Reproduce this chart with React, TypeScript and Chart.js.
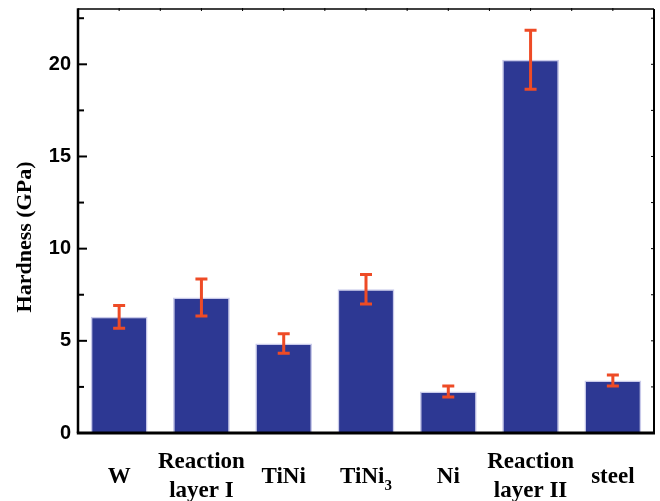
import React, { useEffect, useRef } from "react";
import { Chart, registerables } from "chart.js";

Chart.register(...registerables);

const categories: string[][] = [["W"], ["Reaction", "layer I"], ["TiNi"], ["TiNi", "3"], ["Ni"], ["Reaction", "layer II"], ["steel"]];
const subscriptIndex = 3;
const hardness = [6.3, 7.35, 4.85, 7.8, 2.25, 20.25, 2.85];
const errors = [0.62, 1.0, 0.53, 0.8, 0.3, 1.6, 0.3];
const yTickLabels = [0, 5, 10, 15, 20];
const yTitle = "Hardness (GPa)";

const BAR = "#2D3893";
const ERR = "#EE4B26";

const framePlugin = {
  id: "frame",
  afterDatasetsDraw(chart: any) {
    const { ctx, chartArea: a, scales } = chart;
    const y = scales.y;
    const x = scales.x;
    const meta = chart.getDatasetMeta(0);
    // error bars
    ctx.save();
    ctx.strokeStyle = ERR;
    ctx.lineWidth = 3;
    meta.data.forEach((bar: any, i: number) => {
      const cx = bar.x;
      const top = y.getPixelForValue(hardness[i] + errors[i]);
      const bot = y.getPixelForValue(hardness[i] - errors[i]);
      ctx.beginPath();
      ctx.moveTo(cx, top);
      ctx.lineTo(cx, bot);
      ctx.moveTo(cx - 6, top);
      ctx.lineTo(cx + 6, top);
      ctx.moveTo(cx - 6, bot);
      ctx.lineTo(cx + 6, bot);
      ctx.stroke();
    });
    ctx.restore();

    // frame
    ctx.save();
    ctx.strokeStyle = "#000";
    ctx.lineWidth = 1.5;
    ctx.beginPath();
    ctx.moveTo(a.left, a.top);
    ctx.lineTo(a.right, a.top);
    ctx.stroke();
    ctx.lineWidth = 2;
    ctx.beginPath();
    ctx.moveTo(a.right, a.top);
    ctx.lineTo(a.right, a.bottom);
    ctx.stroke();
    ctx.lineWidth = 2.5;
    ctx.beginPath();
    ctx.moveTo(a.left, a.top - 0.75);
    ctx.lineTo(a.left, a.bottom);
    ctx.stroke();
    ctx.lineWidth = 3;
    ctx.beginPath();
    ctx.moveTo(a.left - 1.2, a.bottom);
    ctx.lineTo(a.right + 1, a.bottom);
    ctx.stroke();

    // left & right ticks
    for (let v = 0; v <= y.max; v += 2.5) {
      const py = y.getPixelForValue(v);
      const major = v % 5 === 0;
      ctx.lineWidth = 2;
      ctx.beginPath();
      ctx.moveTo(a.left, py);
      ctx.lineTo(a.left + (major ? 9 : 6), py);
      ctx.stroke();
      ctx.lineWidth = 1;
      ctx.beginPath();
      ctx.moveTo(a.right, py);
      ctx.lineTo(a.right - 3, py);
      ctx.stroke();
    }
    // top ticks
    const n = categories.length;
    const w = (a.right - a.left) / n;
    ctx.lineWidth = 1;
    for (let k = 1; k < 2 * n; k++) {
      const px = a.left + (k * w) / 2;
      ctx.beginPath();
      ctx.moveTo(px, a.top - 1);
      ctx.lineTo(px, a.top + 2);
      ctx.stroke();
    }
    ctx.restore();

    // y title
    ctx.save();
    ctx.fillStyle = "#000";
    ctx.font = "bold 22px 'Liberation Serif'";
    ctx.textAlign = "center";
    ctx.textBaseline = "middle";
    ctx.translate(25, 237);
    ctx.rotate(-Math.PI / 2);
    ctx.fillText(yTitle, 0, 0);
    ctx.restore();

    // category labels
    ctx.save();
    ctx.fillStyle = "#000";
    ctx.textAlign = "center";
    ctx.textBaseline = "alphabetic";
    const font = "bold 23px 'Liberation Serif'";
    categories.forEach((lab, i) => {
      const cx = x.getPixelForValue(i);
      ctx.font = font;
      if (i === subscriptIndex) {
        const main = lab[0];
        const sub = lab[1];
        const mw = ctx.measureText(main).width;
        ctx.font = "bold 15px 'Liberation Serif'";
        const sw = ctx.measureText(sub).width;
        const total = mw + sw;
        ctx.textAlign = "left";
        ctx.font = font;
        ctx.fillText(main, cx - total / 2, 483);
        ctx.font = "bold 15px 'Liberation Serif'";
        ctx.fillText(sub, cx - total / 2 + mw, 490);
        ctx.textAlign = "center";
      } else if (lab.length === 2) {
        ctx.fillText(lab[0], cx, 468);
        ctx.fillText(lab[1], cx, 497);
      } else {
        ctx.fillText(lab[0], cx, 483);
      }
    });
    ctx.restore();
  },
};

export default function App() {
  const ref = useRef<HTMLCanvasElement>(null);
  useEffect(() => {
    if (!ref.current) return;
    const chart = new Chart(ref.current, {
      type: "bar",
      data: {
        labels: categories.map((c) => c.join(" ")),
        datasets: [
          {
            data: hardness,
            backgroundColor: BAR,
            borderColor: "#C9CAEA",
            borderWidth: 1.5,
            categoryPercentage: 1,
            barPercentage: 0.69,
          },
        ],
      },
      options: {
        animation: false,
        responsive: false,
        maintainAspectRatio: false,
        layout: { padding: { top: 9, right: 6, left: 0, bottom: 0 } },
        plugins: { legend: { display: false }, tooltip: { enabled: false } },
        scales: {
          x: {
            grid: { display: false, drawTicks: false },
            border: { display: false },
            ticks: { display: false },
            afterFit: (s: any) => {
              s.height = 68;
              s.paddingLeft = 0;
              s.paddingRight = 0;
            },
          },
          y: {
            min: 0,
            max: 23,
            grid: { display: false, drawTicks: false },
            border: { display: false },
            ticks: {
              stepSize: 2.5,
              padding: 7,
              color: "#000",
              font: { family: "'Liberation Sans'", weight: "bold", size: 20 },
              callback: (v: any) => (yTickLabels.includes(Number(v)) ? String(v) : ""),
            },
            title: { display: false },
            afterFit: (s: any) => {
              s.width = 78;
              s.paddingTop = 0;
              s.paddingBottom = 0;
            },
          },
        },
      },
      plugins: [framePlugin],
    });
    return () => chart.destroy();
  }, []);
  return (
    <div style={{ position: "absolute", left: 0, top: 0, width: 660, height: 501, background: "#fff" }}>
      <canvas ref={ref} width={660} height={501} />
    </div>
  );
}
